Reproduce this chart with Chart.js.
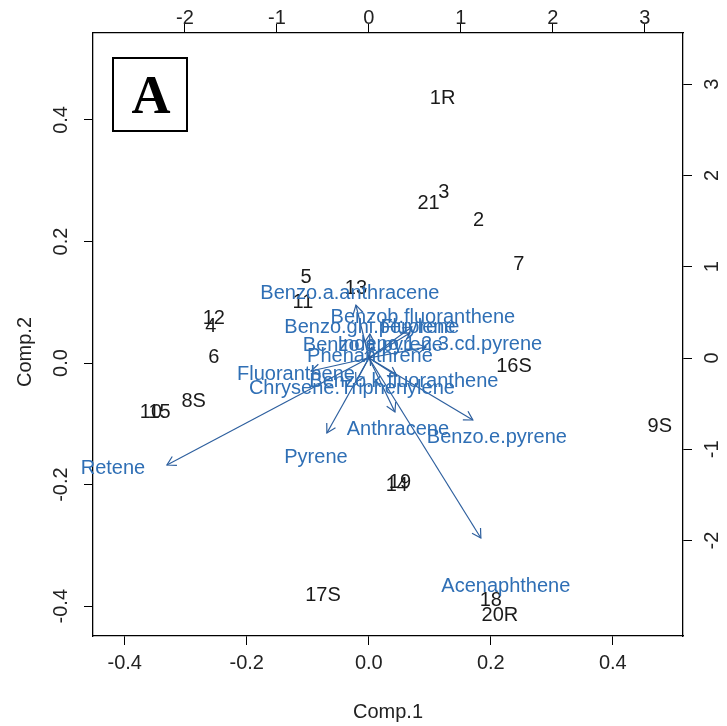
<!DOCTYPE html>
<html>
<head>
<meta charset="utf-8">
<script src="https://cdn.jsdelivr.net/npm/chart.js@4.4.0/dist/chart.umd.min.js"></script>
<style>
  html, body { margin: 0; padding: 0; background: #fff; }
</style>
</head>
<body>
<canvas id="biplot-chart" width="727" height="726"></canvas>
<script>
// observation scores (bottom / left axes)
var obsNames = ['1R', '21', '3', '2', '7', '5', '13', '11', '12', '4', '6', '16S', '8S', '10', '15', '9S', '19', '14', '17S', '18', '20R'];
var obsX = [0.121, 0.098, 0.123, 0.180, 0.246, -0.103, -0.021, -0.108, -0.254, -0.259, -0.254, 0.238, -0.287, -0.357, -0.343, 0.477, 0.051, 0.046, -0.075, 0.200, 0.215];
var obsY = [0.435, 0.262, 0.281, 0.235, 0.163, 0.140, 0.122, 0.100, 0.074, 0.061, 0.010, -0.005, -0.063, -0.082, -0.082, -0.105, -0.196, -0.201, -0.382, -0.390, -0.415];

// variable loadings (top / right axes): arrow tips and label positions
var varNames = ['Retene', 'Pyrene', 'Anthracene', 'Benzo.e.pyrene', 'Acenaphthene', 'Benzo.a.anthracene',
  'Benzob.fluoranthene', 'Benzo.ghi.perylene', 'Fluorene', 'Indeno.1.2.3.cd.pyrene', 'Benzo.a.pyrene',
  'Phenanthrene', 'Fluoranthene', 'Chrysene.Triphenylene', 'Benzo.k.fluoranthene'];
var varX = [-2.196, -0.457, 0.283, 1.130, 1.217, -0.141, 0.467, 0.011, 0.446, 0.620, 0.033, 0.011, -0.630, -0.141, 0.304];
var varY = [-1.172, -0.821, -0.591, -0.679, -1.971, 0.580, 0.340, 0.263, 0.274, 0.120, 0.120, 0.022, -0.142, -0.263, -0.197];
var labX = [-2.783, -0.576, 0.315, 1.391, 1.489, -0.207, 0.587, 0.011, 0.554, 0.772, 0.043, 0.011, -0.793, -0.185, 0.380];
var labY = [-1.205, -1.095, -0.778, -0.876, -2.508, 0.712, 0.449, 0.329, 0.329, 0.153, 0.142, 0.022, -0.175, -0.329, -0.252];

// tick labels
var xTicks = [-0.4, -0.2, 0.0, 0.2, 0.4];
var yTicks = [-0.4, -0.2, 0.0, 0.2, 0.4];
var x2Ticks = [-2, -1, 0, 1, 2, 3];
var y2Ticks = [-2, -1, 0, 1, 2, 3];

var FONT = 'Liberation Sans';
var blueText = '#2f6fb5';
var blueLine = '#2d5f9e';

var datasets = [{
  label: 'scores',
  data: obsX.map(function(v, i) { return {x: v, y: obsY[i]}; }),
  xAxisID: 'x', yAxisID: 'y',
  pointRadius: 0, showLine: false
}, {
  label: 'loadingLabels',
  data: labX.map(function(v, i) { return {x: v, y: labY[i]}; }),
  xAxisID: 'x2', yAxisID: 'y2',
  pointRadius: 0, showLine: false
}];
for (var i = 0; i < varNames.length; i++) {
  datasets.push({
    label: 'arrow_' + varNames[i],
    data: [{x: 0, y: 0}, {x: varX[i], y: varY[i]}],
    xAxisID: 'x2', yAxisID: 'y2',
    showLine: true, borderColor: blueLine, borderWidth: 1.2,
    pointRadius: 0, fill: false
  });
}

function fixTicks(list) {
  return function(scale) {
    scale.ticks = list.map(function(v) { return {value: v}; });
  };
}

function axis(position, min, max, ticks, size, extra) {
  var horiz = position === 'top' || position === 'bottom';
  var o = {
    type: 'linear',
    position: position,
    min: min, max: max,
    afterBuildTicks: fixTicks(ticks),
    afterFit: function(s) { if (horiz) s.height = size; else s.width = size; },
    grid: { display: true, drawOnChartArea: false, drawTicks: true, tickLength: 9, color: '#000', lineWidth: 1 },
    border: { display: true, color: '#000', width: 1.3 },
    ticks: { color: '#222', font: { family: FONT, size: 20 }, padding: 4 }
  };
  for (var k in extra) {
    if (k === 'ticks') Object.assign(o.ticks, extra.ticks);
    else o[k] = extra[k];
  }
  return o;
}

var biplotText = {
  id: 'biplotText',
  afterDatasetsDraw: function(chart) {
    var ctx = chart.ctx;
    ctx.save();
    ctx.textAlign = 'center';
    ctx.textBaseline = 'middle';
    ctx.font = '20px "' + FONT + '"';
    // observation names
    ctx.fillStyle = '#1a1a1a';
    chart.getDatasetMeta(0).data.forEach(function(pt, i) {
      ctx.fillText(obsNames[i], pt.x, pt.y);
    });
    // arrow heads
    ctx.strokeStyle = blueLine;
    ctx.lineWidth = 1.2;
    for (var i = 0; i < varNames.length; i++) {
      var d = chart.getDatasetMeta(i + 2).data;
      var a = d[0], b = d[1];
      var ang = Math.atan2(b.y - a.y, b.x - a.x);
      var len = 10, spread = Math.PI / 6;
      ctx.beginPath();
      ctx.moveTo(b.x - len * Math.cos(ang - spread), b.y - len * Math.sin(ang - spread));
      ctx.lineTo(b.x, b.y);
      ctx.lineTo(b.x - len * Math.cos(ang + spread), b.y - len * Math.sin(ang + spread));
      ctx.stroke();
    }
    // variable names
    ctx.fillStyle = blueText;
    chart.getDatasetMeta(1).data.forEach(function(pt, i) {
      ctx.fillText(varNames[i], pt.x, pt.y);
    });
    // y axis title
    ctx.save();
    ctx.translate(25, 352);
    ctx.rotate(-Math.PI / 2);
    ctx.fillStyle = '#222';
    ctx.font = '20px "' + FONT + '"';
    ctx.fillText('Comp.2', 0, 0);
    ctx.restore();
    // panel letter
    ctx.fillStyle = '#fff';
    ctx.fillRect(113, 58, 74, 73);
    ctx.strokeStyle = '#000';
    ctx.lineWidth = 2;
    ctx.strokeRect(113, 58, 74, 73);
    ctx.fillStyle = '#000';
    ctx.font = 'bold 54px "Liberation Serif"';
    ctx.fillText('A', 151, 99);
    ctx.restore();
  }
};

var chart = new Chart(document.getElementById('biplot-chart').getContext('2d'), {
  type: 'scatter',
  data: { datasets: datasets },
  plugins: [biplotText],
  options: {
    responsive: false,
    animation: false,
    devicePixelRatio: 1,
    layout: { padding: 0 },
    plugins: { legend: { display: false }, tooltip: { enabled: false } },
    scales: {
      x: axis('bottom', -0.452, 0.515, xTicks, 90, {
        ticks: { padding: 6, callback: function(v) { return v.toFixed(1); } },
        title: { display: true, text: 'Comp.1', color: '#222', font: { family: FONT, size: 20 }, padding: { top: 0, bottom: 2 } }
      }),
      y: axis('left', -0.449, 0.543, yTicks, 93, {
        ticks: { minRotation: 90, maxRotation: 90, crossAlign: 'center', padding: 5, callback: function(v) { return v.toFixed(1); } }
      }),
      x2: axis('top', -3.0, 3.415, x2Ticks, 33, {
        ticks: { padding: -6, callback: function(v) { return String(v); } }
      }),
      y2: axis('right', -3.045, 3.56, y2Ticks, 44, {
        ticks: { minRotation: 90, maxRotation: 90, crossAlign: 'center', padding: 12, callback: function(v) { return String(v); } }
      })
    }
  }
});
</script>
</body>
</html>
